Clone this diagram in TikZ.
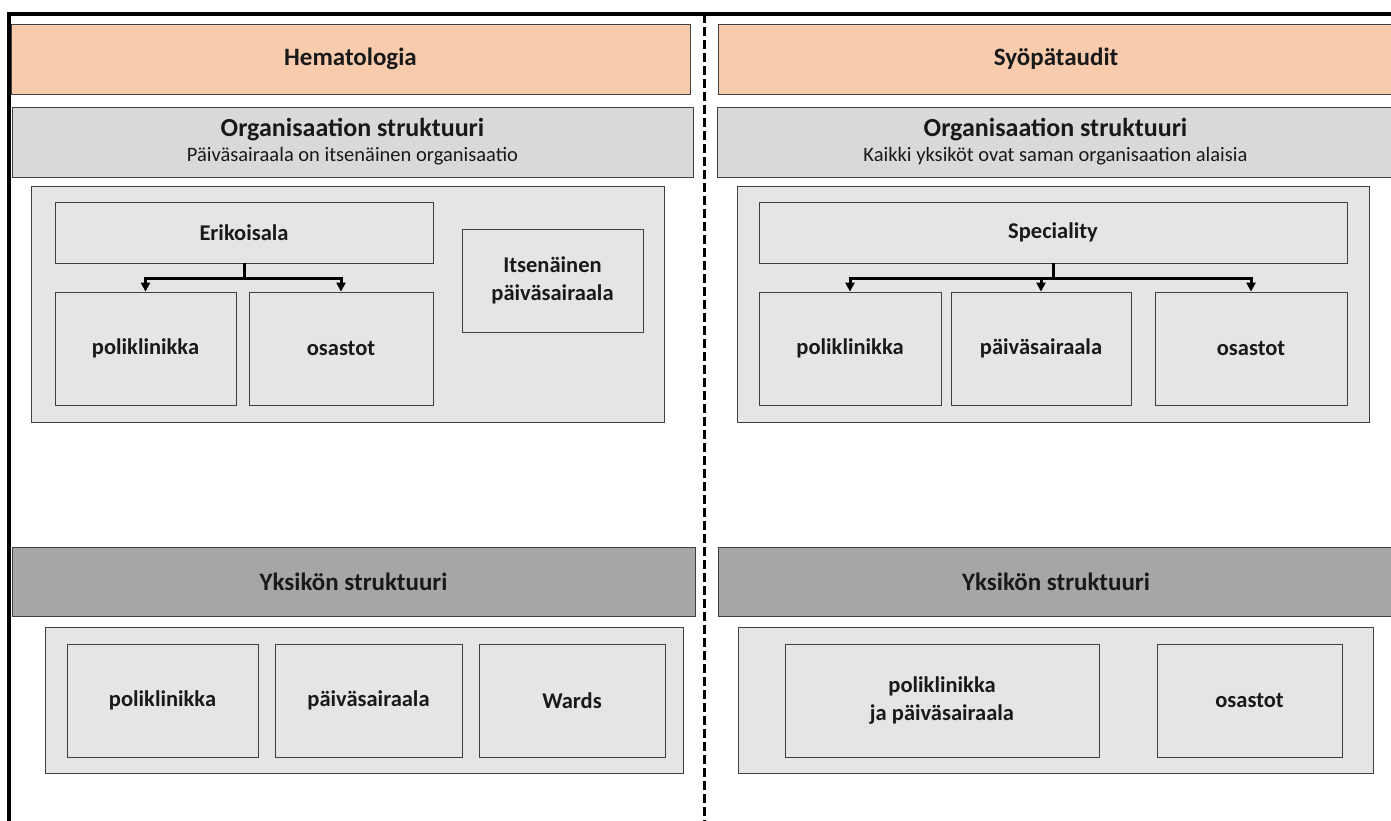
\documentclass[tikz,border=0pt]{standalone}
\usepackage{fontspec}
\setmainfont{Carlito}
\usepackage{tikz}
\usetikzlibrary{arrows.meta,positioning}
\definecolor{peach}{HTML}{F8CBAD}
\definecolor{orggray}{HTML}{D9D9D9}
\definecolor{unitgray}{HTML}{A6A6A6}
\definecolor{panelgray}{HTML}{E5E5E5}
\definecolor{edge}{HTML}{404040}
\tikzset{
  % kehys ja jakoviiva
  frameline/.style={line width=3.5pt,black},
  divider/.style={line width=3pt,black,dash pattern=on 9pt off 4pt},
  % laatikot
  % kaytto: \node[box,minimum width=..,minimum height=..] (nimi) at (x,y) {teksti};
  box/.style={draw=edge,line width=0.8pt,inner sep=0pt,align=center,fill=panelgray,
    text=black!90,font=\fontsize{22.5}{28}\selectfont\bfseries},
  panel/.style={box,fill=panelgray},
  header/.style={box,fill=peach,font=\fontsize{25}{30}\selectfont\bfseries},
  orghead/.style={box,fill=orggray,font=\fontsize{20.5}{24}\selectfont},
  unithead/.style={box,fill=unitgray,font=\fontsize{25}{30}\selectfont\bfseries},
  % haarautuva nuoli erikoisalasta yksikoihin
  branch/.style={line width=3pt,black,-{Triangle[width=9pt,length=9pt]}},
}
\newcommand{\orgtitle}[1]{{\fontsize{26}{30}\selectfont\bfseries #1}\\[1pt]}

\begin{document}
\begin{tikzpicture}[x=1pt,y=-1pt]
  \useasboundingbox (0,0) rectangle (1391,821);
  % kehys
  \draw[frameline] (7,14) -- (1391,14);
  \draw[frameline] (9,14) -- (9,821);
  \draw[divider] (704,14) -- (704,821);

  % Hematologia
  \node[header,minimum width=679pt,minimum height=70pt] (hemhead) at (350.5,59) {Hematologia};
  \node[orghead,minimum width=681pt,minimum height=70pt] (hemorg) at (352.5,142)
    {\orgtitle{Organisaation struktuuri}Päiväsairaala on itsenäinen organisaatio};
  \node[panel,minimum width=633pt,minimum height=236pt] (hempanel) at (347.5,304) {};
  \node[box,minimum width=378pt,minimum height=61pt] (erik) at (244,232.5) {Erikoisala};
  \node[box,minimum width=181pt,minimum height=103pt] (itse) at (552.5,280.5) {Itsenäinen\\päiväsairaala};
  \node[box,minimum width=181pt,minimum height=113pt] (hpoli) at (145.5,348.5) {poliklinikka};
  \node[box,minimum width=184pt,minimum height=113pt] (hosa) at (341,348.5) {osastot};
  \draw[branch] (erik.south) -- ++(0,15) -| (hpoli.north);
  \draw[branch] (erik.south) -- ++(0,15) -| (hosa.north);

  \node[unithead,minimum width=683pt,minimum height=69pt] (hemunit) at (353.5,581.5) {Yksikön struktuuri};
  \node[panel,minimum width=638pt,minimum height=146pt] (hemlow) at (364,700) {};
  \node[box,minimum width=191pt,minimum height=113pt] (hlpoli) at (162.5,700.5) {poliklinikka};
  \node[box,minimum width=187pt,minimum height=113pt] (hlpaiva) at (368.5,700.5) {päiväsairaala};
  \node[box,minimum width=186pt,minimum height=113pt] (hlward) at (572,700.5) {Wards};

  % Syopatautit
  \node[header,minimum width=676pt,minimum height=70pt] (syohead) at (1056,59) {Syöpätaudit};
  \node[orghead,minimum width=677pt,minimum height=70pt] (syoorg) at (1055.5,142)
    {\orgtitle{Organisaation struktuuri}Kaikki yksiköt ovat saman organisaation alaisia};
  \node[panel,minimum width=632pt,minimum height=236pt] (syopanel) at (1053,304) {};
  \node[box,minimum width=588pt,minimum height=61pt] (spec) at (1053,232.5) {Speciality};
  \node[box,minimum width=182pt,minimum height=113pt] (spoli) at (850,348.5) {poliklinikka};
  \node[box,minimum width=180pt,minimum height=113pt] (spaiva) at (1041,348.5) {päiväsairaala};
  \node[box,minimum width=192pt,minimum height=113pt] (sosa) at (1251,348.5) {osastot};
  \draw[branch] (spec.south) -- ++(0,15) -| (spoli.north);
  \draw[branch] (spec.south) -- ++(0,15) -| (spaiva.north);
  \draw[branch] (spec.south) -- ++(0,15) -| (sosa.north);

  \node[unithead,minimum width=676pt,minimum height=69pt] (syounit) at (1056,581.5) {Yksikön struktuuri};
  \node[panel,minimum width=635pt,minimum height=146pt] (syolow) at (1055.5,700) {};
  \node[box,minimum width=314pt,minimum height=113pt] (slpoli) at (942,700.5) {poliklinikka\\ja päiväsairaala};
  \node[box,minimum width=185pt,minimum height=113pt] (slosa) at (1249.5,700.5) {osastot};
\end{tikzpicture}
\end{document}
